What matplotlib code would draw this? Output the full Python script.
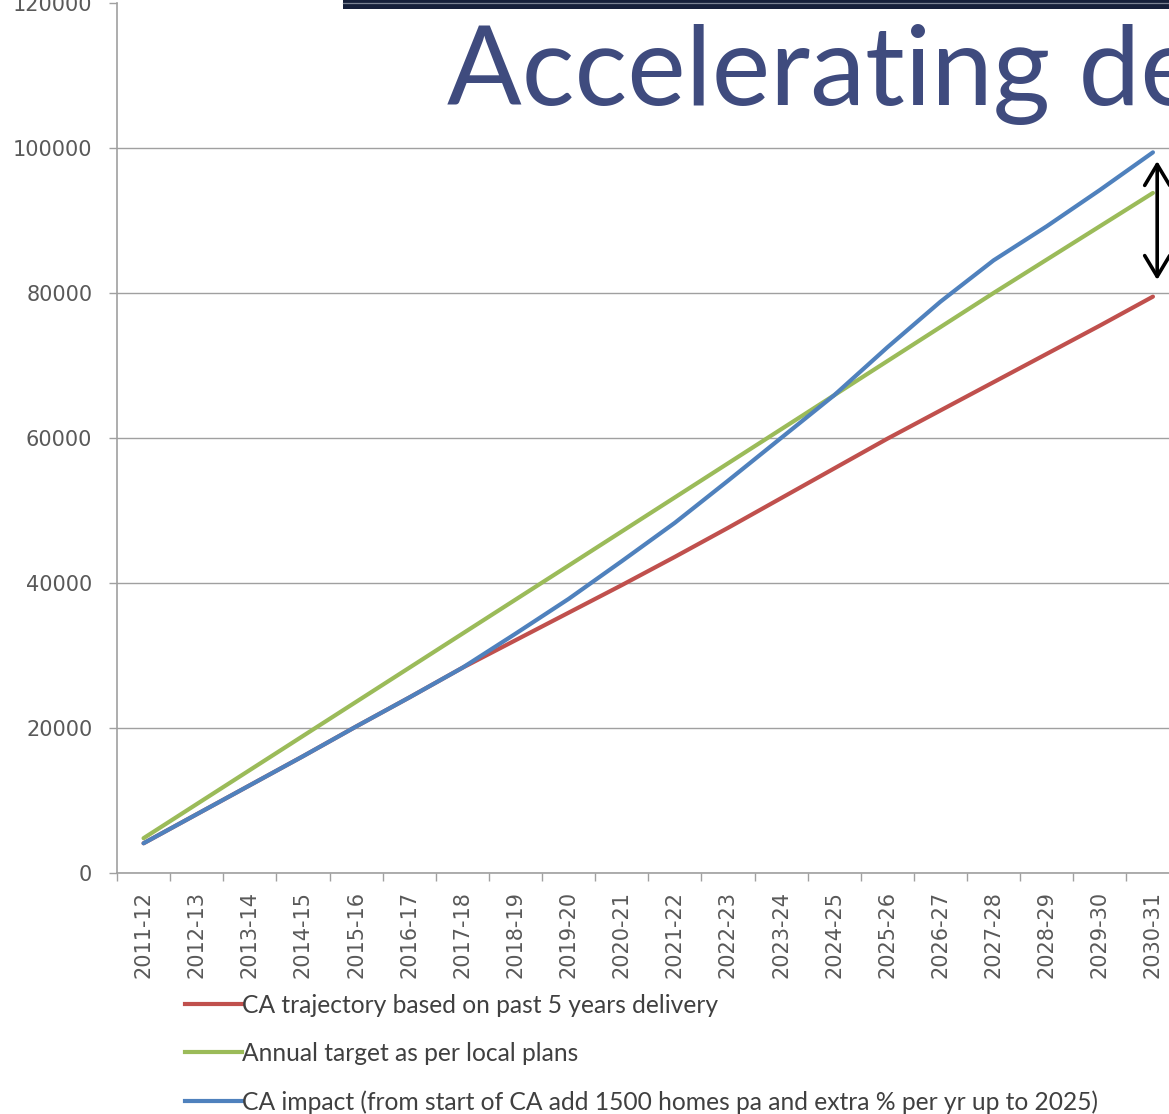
import numpy as np
import matplotlib

matplotlib.use("Agg")
import matplotlib.pyplot as plt
from matplotlib.patches import Rectangle
from matplotlib.lines import Line2D


categories = [
    "2011-12", "2012-13", "2013-14", "2014-15", "2015-16", "2016-17", "2017-18",
    "2018-19", "2019-20", "2020-21", "2021-22", "2022-23", "2023-24", "2024-25",
    "2025-26", "2026-27", "2027-28", "2028-29", "2029-30", "2030-31",
]
trajectory = [4100, 8100, 12100, 16100, 20200, 24200, 28300, 32100, 35900, 39700,
              43600, 47600, 51700, 55800, 59900, 63800, 67700, 71600, 75500, 79500]
target = [4800, 9500, 14200, 18900, 23600, 28300, 33000, 37700, 42400, 47100,
          51800, 56500, 61200, 65900, 70600, 75300, 80000, 84600, 89200, 93800]
impact = [4100, 8100, 12100, 16100, 20200, 24200, 28300, 33000, 37800, 43000,
          48300, 54100, 60000, 65900, 72500, 78800, 84500, 89200, 94200, 99400]

labels = [
    "CA trajectory based on past 5 years delivery",
    "Annual target as per local plans",
    "CA impact (from start of CA add 1500 homes pa and extra % per yr up to 2025)",
]
colors = ["#C0504D", "#9BBB59", "#4F81BD"]

W, H = 1169, 1114
fig = plt.figure(figsize=(W / 100, H / 100), dpi=100)

# plot area runs off the right and top edge, like the cropped slide
ax = fig.add_axes([117 / W, 1 - 873 / H, 1062.5 / W, 870 / H])

x = np.arange(len(categories))
for series, c in zip([trajectory, target, impact], colors):
    ax.plot(x, series, color=c, lw=3.0, solid_capstyle="round",
            solid_joinstyle="round", zorder=3)

ax.set_xlim(-0.5, len(categories) - 0.5)
ax.set_ylim(0, 120000)
ax.set_yticks(np.arange(0, 120001, 20000))
ax.yaxis.grid(True, color="#A0A0A0", lw=1.0)
ax.set_axisbelow(True)
ax.get_ygridlines()[-1].set_visible(False)

ax.set_xticks(x)
ax.set_xticklabels(categories, rotation=90)
ax.set_xticks(np.arange(-0.5, len(categories)), minor=True)
ax.tick_params(axis="x", which="major", length=0, pad=13, labelsize=15,
               labelcolor="#595959")
ax.tick_params(axis="x", which="minor", length=6, width=1.0, color="#A0A0A0")
ax.tick_params(axis="y", length=5.8, width=1.0, color="#A0A0A0", pad=12,
               labelsize=15, labelcolor="#595959")

for side in ["top", "right"]:
    ax.spines[side].set_visible(False)
for side in ["left", "bottom"]:
    ax.spines[side].set_color("#A0A0A0")
    ax.spines[side].set_linewidth(1.2)

# gap arrow between CA impact and trajectory at the end
x_end = len(categories) - 1 + 0.08
ax.annotate("", xy=(x_end, trajectory[-1] + 2300), xytext=(x_end, impact[-1] - 1200),
            arrowprops=dict(arrowstyle="<->,head_length=0.75,head_width=0.45",
                            lw=2.6, color="black", shrinkA=0, shrinkB=0,
                            mutation_scale=20),
            annotation_clip=False, zorder=5)

# legend below the axis
handles = [Line2D([0], [0], color=c, lw=3.0) for c in colors]
fig.legend(handles, labels, loc="upper left",
           bbox_to_anchor=(185 / W, 1 - 994 / H), frameon=False,
           prop={"family": "Lato", "size": 17.7}, labelcolor="#404040",
           handlelength=2.32, handletextpad=0.0, labelspacing=1.02,
           borderaxespad=0, borderpad=0)

# slide title bar and heading
fig.add_artist(Rectangle((343 / W, 1 - 9 / H), 1 - 343 / W, 9 / H,
                         transform=fig.transFigure, color="#16203A", lw=0))
fig.add_artist(Line2D([343 / W, 1], [1 - 2.5 / H, 1 - 2.5 / H],
                      transform=fig.transFigure, color="#7C8494", lw=0.9))
fig.text(447 / W, 1 - 105 / H, "Accelerating delivery", family="Lato",
         fontsize=79.5, color="#3F4B7E", va="baseline", ha="left")

fig.savefig("out.png", dpi=100)
